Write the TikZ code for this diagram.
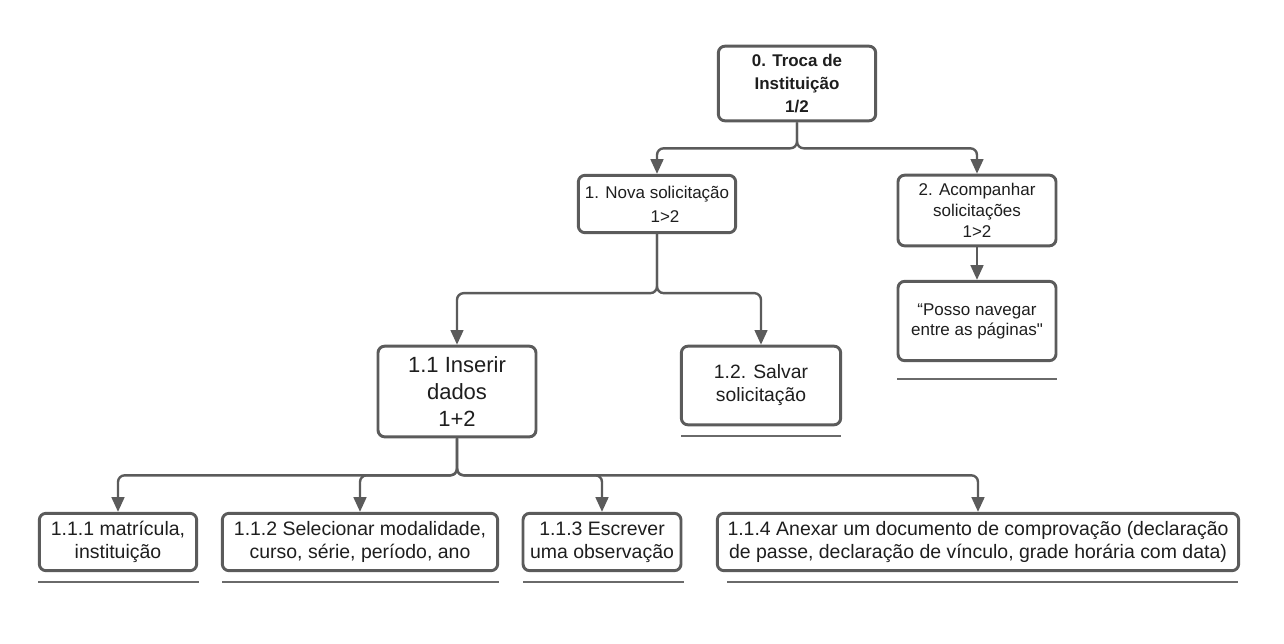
\documentclass[tikz,border=0pt]{standalone}
\usepackage{fontspec}
\setmainfont{Liberation Sans}[Ligatures=TeXOff]
\usetikzlibrary{arrows.meta}
\definecolor{lc}{HTML}{5B5B5B}
\definecolor{tc}{HTML}{1E1E1E}
\definecolor{ulc}{HTML}{6A6A6A}
\tikzset{
  box/.style={draw=lc, line width=2.2pt, rounded corners=5pt, fill=white,
    align=center, inner sep=0pt, text=tc},
  conn/.style={draw=lc, line width=1.8pt, rounded corners=5pt,
    -{Triangle[length=11pt,width=9.5pt]}},
  uline/.style={draw=ulc, line width=1.5pt},
}
\begin{document}
\begin{tikzpicture}[x=0.75pt,y=-0.75pt]
\useasboundingbox (0,0) rectangle (1284,643);
% nodes
\node[box, minimum width=118pt, minimum height=56pt,
  font=\fontsize{12.7pt}{17.25pt}\selectfont\bfseries] (b0) at (797,83.5)
  {0. Troca de\\Instituição\\1/2};
\node[box, minimum width=118pt, minimum height=43pt,
  font=\fontsize{12.75pt}{18pt}\selectfont] (b1) at (657,204)
  {1. Nova solicitação\\\hspace*{12pt}1>2};
\node[box, minimum width=118.5pt, minimum height=53pt,
  font=\fontsize{12.75pt}{15.75pt}\selectfont] (b2) at (977,210.5)
  {2. Acompanhar\\solicitações\\1>2};
\node[box, minimum width=118.5pt, minimum height=59.5pt,
  font=\fontsize{12.75pt}{15pt}\selectfont] (b3) at (977,321)
  {“Posso navegar\\entre as páginas"};
\node[box, minimum width=118.5pt, minimum height=68pt,
  font=\fontsize{16.5pt}{20pt}\selectfont] (b11) at (457,391.5)
  {1.1 Inserir\\dados\\1+2};
\node[box, minimum width=119.5pt, minimum height=59pt,
  font=\fontsize{14.5pt}{17.25pt}\selectfont] (b12) at (761,385.5)
  {1.2. Salvar\\solicitação};
\node[box, minimum width=118pt, minimum height=43pt,
  font=\fontsize{14.6pt}{17.25pt}\selectfont] (b111) at (118,542)
  {1.1.1 matrícula,\\instituição};
\node[box, minimum width=206.5pt, minimum height=43pt,
  font=\fontsize{14.6pt}{17.25pt}\selectfont] (b112) at (360,542)
  {1.1.2 Selecionar modalidade,\\curso, série, período, ano};
\node[box, minimum width=118.5pt, minimum height=43pt,
  font=\fontsize{14.6pt}{17.25pt}\selectfont] (b113) at (602,542)
  {1.1.3 Escrever\\uma observação};
\node[box, minimum width=391pt, minimum height=43pt,
  font=\fontsize{14.6pt}{17.25pt}\selectfont] (b114) at (978,542)
  {1.1.4 Anexar um documento de comprovação (declaração\\de passe, declaração de vínculo, grade horária com data)};
% connectors
\draw[conn] (b0.south) -- ++(0,26) -| (b1.north);
\draw[conn] (b0.south) -- ++(0,26) -| (b2.north);
\draw[conn] (b2.south) -- (b3.north);
\draw[conn] (b1.south) -- ++(0,59) -| (b11.north);
\draw[conn] (b1.south) -- ++(0,59) -| (b12.north);
\draw[conn] (b11.south) -- ++(0,37) -| (b111.north);
\draw[conn] (b11.south) -- ++(0,37) -| (b112.north);
\draw[conn] (b11.south) -- ++(0,37) -| (b113.north);
\draw[conn] (b11.south) -- ++(0,37) -| (b114.north);
% underlines
\coordinate (u3a) at (897,379); \coordinate (u3b) at (1057,379);
\coordinate (u12a) at (681,436); \coordinate (u12b) at (841,436);
\coordinate (u1a) at (38,582); \coordinate (u1b) at (199,582);
\coordinate (u2a) at (222,582); \coordinate (u2b) at (499,582);
\coordinate (u4a) at (523,582); \coordinate (u4b) at (684,582);
\coordinate (u5a) at (727,582); \coordinate (u5b) at (1238,582);
\draw[uline] (u3a) -- (u3b);
\draw[uline] (u12a) -- (u12b);
\draw[uline] (u1a) -- (u1b);
\draw[uline] (u2a) -- (u2b);
\draw[uline] (u4a) -- (u4b);
\draw[uline] (u5a) -- (u5b);
\end{tikzpicture}
\end{document}
